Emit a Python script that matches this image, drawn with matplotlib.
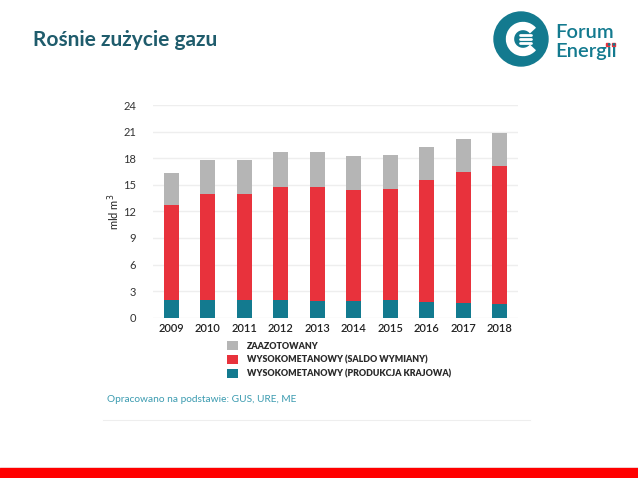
import matplotlib
matplotlib.use("Agg")
import matplotlib.pyplot as plt
from matplotlib.patches import Circle, Arc, Rectangle
from matplotlib.lines import Line2D
import numpy as np

years = ["2009", "2010", "2011", "2012", "2013", "2014", "2015", "2016", "2017", "2018"]
produkcja = [2.0, 1.98, 2.0, 2.0, 1.93, 1.93, 1.95, 1.77, 1.62, 1.58]
saldo_top = [12.71, 13.96, 13.92, 14.75, 14.71, 14.41, 14.56, 15.58, 16.44, 17.16]
total_top = [16.29, 17.76, 17.80, 18.66, 18.66, 18.28, 18.40, 19.30, 20.13, 20.88]
saldo = [s - p for s, p in zip(saldo_top, produkcja)]
zaazotowany = [t - s for t, s in zip(total_top, saldo_top)]
yticks = [0, 3, 6, 9, 12, 15, 18, 21, 24]
labels = ["ZAAZOTOWANY", "WYSOKOMETANOWY (SALDO WYMIANY)", "WYSOKOMETANOWY (PRODUKCJA KRAJOWA)"]

c_gray = "#b5b5b5"
c_red = "#e8323c"
c_teal = "#137a8f"
c_dark = "#1f5c6c"

plt.rcParams['font.family'] = ['Lato', 'DejaVu Sans']

fig = plt.figure(figsize=(6.38, 4.78), dpi=100)
W, H = 638, 478
ax = fig.add_axes([153 / W, 1 - 317.7 / H, (518 - 153) / W, (317.7 - 105) / H])

x = np.arange(len(years))
bw = 0.4
b1 = ax.bar(x, produkcja, bw, color=c_teal, zorder=3)
b2 = ax.bar(x, saldo, bw, bottom=produkcja, color=c_red, zorder=3)
b3 = ax.bar(x, zaazotowany, bw, bottom=saldo_top, color=c_gray, zorder=3)

ax.set_ylim(0, 24)
ax.set_xlim(-0.5, 9.5)
ax.set_yticks(yticks)
ax.set_yticklabels([str(v) for v in yticks], fontsize=8, color="#333333")
ax.set_xticks(x)
ax.set_xticklabels(years, fontsize=8, color="#222222", fontweight="semibold")
ax.tick_params(axis="both", length=0, pad=4)
ax.tick_params(axis="y", pad=12)
for s in ax.spines.values():
    s.set_visible(False)
ax.yaxis.grid(True, color="#eeeeee", linewidth=1, zorder=0)
ax.set_ylabel("mld m$^3$", fontsize=8, color="#222222", labelpad=1)

leg = fig.legend([b3, b2, b1], labels, loc="upper left",
                 bbox_to_anchor=(219 / W, 1 - 333 / H), frameon=False,
                 handlelength=1.2, handleheight=1.2, handletextpad=1.0,
                 labelspacing=0.48, prop={"size": 6.4, "weight": "heavy"})
for t in leg.get_texts():
    t.set_color("#2a2a2a")

fig.text(107 / W, 1 - 399 / H, "Opracowano na podstawie: GUS, URE, ME",
         fontsize=7.3, color="#3b9bb0", va="center", ha="left")
fig.add_artist(Line2D([103 / W, 530 / W], [1 - 420 / H, 1 - 420 / H],
                      color="#eeeeee", linewidth=0.8, transform=fig.transFigure))

fig.text(33 / W, 1 - 40 / H, "Rośnie zużycie gazu", fontsize=15, fontweight="bold",
         color=c_dark, va="center", ha="left")

# Logo
fig.add_artist(Circle((521, H - 39), 27, color=c_teal, transform=None))
fig.add_artist(Arc((523, H - 39), 26, 26, theta1=40, theta2=320, color="white",
                   linewidth=6, transform=None))
for dy in (-4, 0, 4):
    fig.add_artist(Line2D([520, 531], [H - 39 + dy, H - 39 + dy], color="white",
                          linewidth=2, transform=None, solid_capstyle="round"))
fig.text(555 / W, 1 - 32 / H, "Forum", fontsize=14.5, color=c_teal, va="center",
         ha="left", fontweight="semibold")
en = fig.text(555 / W, 1 - 51 / H, "Energii", fontsize=14.5, color=c_teal, va="center",
              ha="left", fontweight="semibold")
fig.canvas.draw()
bb = en.get_window_extent(fig.canvas.get_renderer())
fig.add_artist(Rectangle((bb.x1 - 10.5, H - 46), 3.2, 3.2, color="#e8323c", transform=None))
fig.add_artist(Rectangle((bb.x1 - 5, H - 46), 3.2, 3.2, color="#e8323c", transform=None))

# Bottom bar
fig.add_artist(Rectangle((0, 0), 1, 10 / H, color="#ff0000", transform=fig.transFigure))
fig.add_artist(Line2D([0, 1], [11 / H, 11 / H], color="#f0d0d0", linewidth=0.6,
                      transform=fig.transFigure))

fig.savefig("out.png", dpi=100)
